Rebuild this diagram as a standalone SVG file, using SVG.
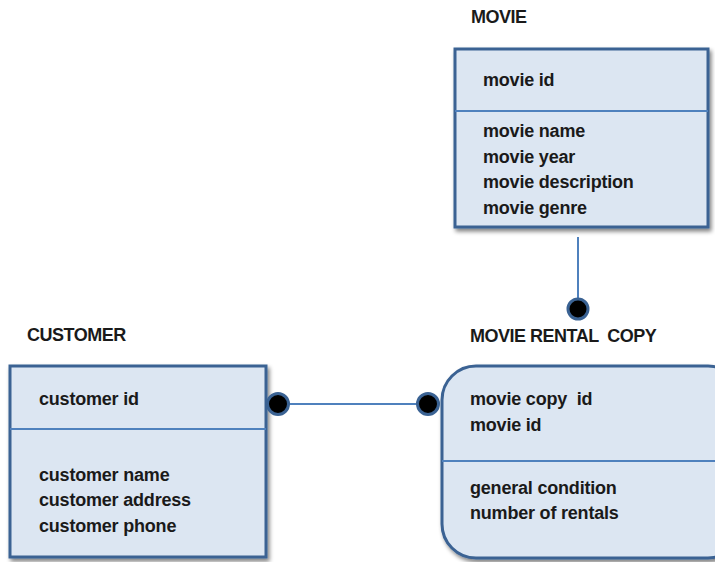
<svg xmlns="http://www.w3.org/2000/svg" width="715" height="562" viewBox="0 0 715 562">
<defs>
<filter id="sh" x="-10%" y="-10%" width="130%" height="130%">
<feGaussianBlur in="SourceAlpha" stdDeviation="2"/>
<feOffset dx="2" dy="3" result="b"/>
<feComponentTransfer><feFuncA type="linear" slope="0.5"/></feComponentTransfer>
<feMerge><feMergeNode/><feMergeNode in="SourceGraphic"/></feMerge>
</filter>
</defs>
<style>
.box{fill:#dce6f2;stroke:#3a6293;stroke-width:3}
.div{stroke:#4f81bd;stroke-width:2}
.t{font-family:"Liberation Sans",Arial,sans-serif;font-weight:bold;font-size:18px;fill:#1a1a1a;letter-spacing:-0.2px;white-space:pre}
.h{font-family:"Liberation Sans",Arial,sans-serif;font-weight:bold;font-size:18px;fill:#1a1a1a;letter-spacing:-0.5px;white-space:pre}
.ln{stroke:#4f81bd;stroke-width:2;fill:none}
.dot{fill:#000;stroke:#3a6293;stroke-width:3}
</style>
<rect width="715" height="562" fill="#fff"/>
<g id="movie">
<text class="h" x="471" y="23">MOVIE</text>
<rect class="box" x="455" y="49" width="253" height="178" filter="url(#sh)"/>
<line class="div" x1="455" y1="111" x2="708" y2="111"/>
<text class="t" x="483" y="86">movie id</text>
<text class="t" x="483" y="137">movie name</text>
<text class="t" x="483" y="163">movie year</text>
<text class="t" x="483" y="188">movie description</text>
<text class="t" x="483" y="214">movie genre</text>
</g>
<g id="customer">
<text class="h" x="27" y="341">CUSTOMER</text>
<rect class="box" x="10" y="366" width="256" height="191" filter="url(#sh)"/>
<line class="div" x1="10" y1="429" x2="266" y2="429"/>
<text class="t" x="39" y="405">customer id</text>
<text class="t" x="39" y="481">customer name</text>
<text class="t" x="39" y="506">customer address</text>
<text class="t" x="39" y="532">customer phone</text>
</g>
<g id="rental">
<text class="h" x="470" y="342" xml:space="preserve">MOVIE RENTAL  COPY</text>
<rect class="box" x="442" y="366" width="300" height="192" rx="34" ry="34" filter="url(#sh)"/>
<line class="div" x1="442" y1="461" x2="715" y2="461"/>
<text class="t" x="470" y="405" xml:space="preserve">movie copy  id</text>
<text class="t" x="470" y="431">movie id</text>
<text class="t" x="470" y="494">general condition</text>
<text class="t" x="470" y="519">number of rentals</text>
</g>
<g id="connectors">
<line class="ln" x1="578" y1="237" x2="578" y2="300"/>
<circle class="dot" cx="578" cy="309" r="10"/>
<line class="ln" x1="288" y1="404" x2="420" y2="404"/>
<circle class="dot" cx="278" cy="404" r="10.5"/>
<circle class="dot" cx="428" cy="404" r="10.5"/>
</g>
</svg>
